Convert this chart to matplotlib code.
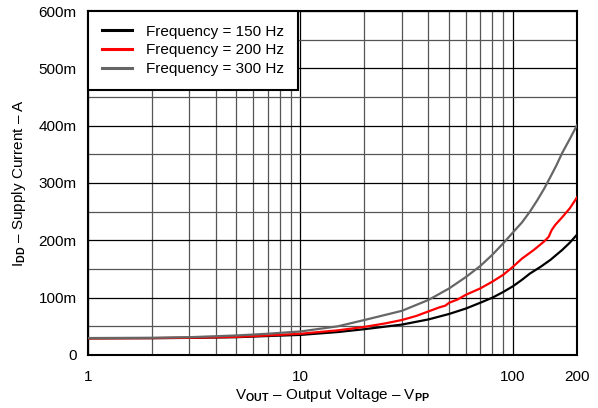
import matplotlib
matplotlib.use("Agg")
import matplotlib.pyplot as plt
from matplotlib.ticker import FixedLocator, NullFormatter

plt.rcParams['font.family'] = ['Liberation Sans', 'DejaVu Sans']
plt.rcParams['mathtext.fontset'] = 'custom'
plt.rcParams['mathtext.rm'] = 'Liberation Sans'
plt.rcParams['mathtext.bf'] = 'Liberation Sans:bold'

# values (V in Vpp, current in mA)
v_150 = [1, 2, 3, 5, 7, 10, 15, 20, 30, 40, 50, 60, 70, 80, 90, 100, 110, 120,
         135, 150, 170, 185, 200]
i_150 = [29, 29.3, 29.8, 31, 33, 35, 40, 45, 53, 62, 71.5, 81, 91, 100, 110, 120,
         131, 142, 154, 166, 183, 196, 210]

v_200 = [1, 2, 3, 5, 7, 10, 15, 20, 25, 30, 35, 40, 45, 48, 50, 55, 60, 70, 80,
         90, 100, 110, 125, 140, 147, 152, 158, 170, 185, 200]
i_200 = [29, 29.4, 30, 31.5, 34, 37, 43, 49, 55, 61, 68, 76, 83, 86, 91, 97, 105,
         116, 128, 140, 154, 168, 183, 198, 206, 218, 227, 240, 256, 275]

v_300 = [1, 2, 3, 5, 7, 10, 15, 20, 30, 40, 50, 60, 70, 80, 90, 100, 110, 120,
         130, 140, 150, 160, 170, 185, 200]
i_300 = [29.5, 30, 31, 34, 37, 41, 50, 61, 77, 96, 116, 136, 155, 175, 195, 214,
         231, 250, 270, 290, 311, 331, 352, 377, 401]

series = [
    ("Frequency = 150 Hz", v_150, i_150, "#000000"),
    ("Frequency = 200 Hz", v_200, i_200, "#ff0000"),
    ("Frequency = 300 Hz", v_300, i_300, "#666666"),
]

y_ticks = [0, 100, 200, 300, 400, 500, 600]
y_labels = ["0", "100m", "200m", "300m", "400m", "500m", "600m"]
x_ticks = [1, 10, 100, 200]
x_labels = ["1", "10", "100", "200"]

fig = plt.figure(figsize=(5.98, 4.08), dpi=100)
ax = fig.add_axes([0.147, 0.130, 0.818, 0.843])

for label, v, i, c in series:
    ax.plot(v, i, color=c, lw=1.6, label=label, zorder=3)

ax.set_xscale("log")
ax.set_xlim(1, 200)
ax.set_ylim(0, 600)

ax.xaxis.set_major_locator(FixedLocator(x_ticks))
ax.set_xticklabels(x_labels)
ax.xaxis.set_minor_locator(FixedLocator([2, 3, 4, 5, 6, 7, 8, 9,
                                         20, 30, 40, 50, 60, 70, 80, 90]))
ax.xaxis.set_minor_formatter(NullFormatter())
ax.set_yticks(y_ticks)
ax.set_yticklabels(y_labels)
ax.yaxis.set_minor_locator(FixedLocator([50, 150, 250, 350, 450, 550]))

ax.grid(True, which="major", color="black", lw=0.9)
ax.grid(True, which="minor", color="#555555", lw=0.9)
ax.tick_params(which="both", length=0, labelsize=11)
ax.tick_params(axis="x", pad=11)
ax.tick_params(axis="y", pad=8)

for s in ax.spines.values():
    s.set_linewidth(1.5)

ax.set_xlabel(r"V$_{\mathbf{OUT}}$ – Output Voltage – V$_{\mathbf{PP}}$", fontsize=11, labelpad=1)
ax.set_ylabel(r"I$_{\mathbf{DD}}$ – Supply Current – A", fontsize=11, labelpad=8)

leg = ax.legend(loc="upper left", borderaxespad=0, fancybox=False, framealpha=1,
                edgecolor="black", fontsize=11, handlelength=2.0, labelspacing=0.3,
                borderpad=0.9, handletextpad=0.9)
leg.get_frame().set_linewidth(1.5)
for h in leg.get_lines():
    h.set_linewidth(2.2)

fig.savefig("out.png", dpi=100)
